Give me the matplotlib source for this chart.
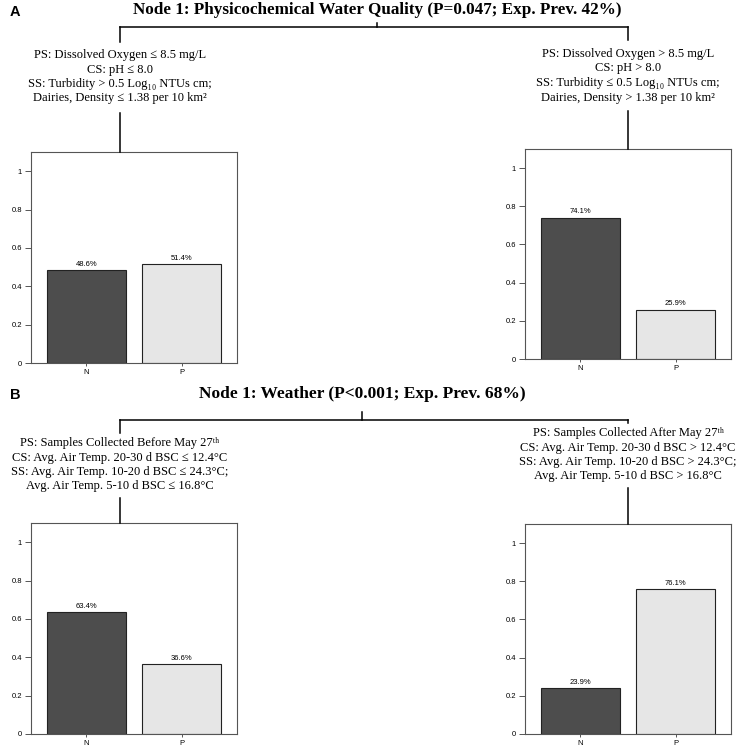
import matplotlib
matplotlib.use("Agg")
import matplotlib.pyplot as plt
from matplotlib.lines import Line2D

categories = ["N", "P"]
bar_colors = ["#4d4d4d", "#e6e6e6"]

prop_a_left = [0.486, 0.514]
prop_a_right = [0.741, 0.259]
prop_b_left = [0.634, 0.366]
prop_b_right = [0.239, 0.761]

title_a = "Node 1: Physicochemical Water Quality (P=0.047; Exp. Prev. 42%)"
title_b = "Node 1: Weather (P<0.001; Exp. Prev. 68%)"

text_a_left = ["PS: Dissolved Oxygen ≤ 8.5 mg/L",
               "CS: pH ≤ 8.0",
               "SS: Turbidity > 0.5 Log₁₀ NTUs cm;",
               "Dairies, Density ≤ 1.38 per 10 km²"]
text_a_right = ["PS: Dissolved Oxygen > 8.5 mg/L",
                "CS: pH > 8.0",
                "SS: Turbidity ≤ 0.5 Log₁₀ NTUs cm;",
                "Dairies, Density > 1.38 per 10 km²"]
text_b_left = ["PS: Samples Collected Before May 27ᵗʰ",
               "CS: Avg. Air Temp. 20-30 d BSC ≤ 12.4°C",
               "SS: Avg. Air Temp. 10-20 d BSC ≤ 24.3°C;",
               "Avg. Air Temp. 5-10 d BSC ≤ 16.8°C"]
text_b_right = ["PS: Samples Collected After May 27ᵗʰ",
                "CS: Avg. Air Temp. 20-30 d BSC > 12.4°C",
                "SS: Avg. Air Temp. 10-20 d BSC > 24.3°C;",
                "Avg. Air Temp. 5-10 d BSC > 16.8°C"]

W, H = 743, 753
fig = plt.figure(figsize=(W / 100, H / 100), dpi=100)
serif = ["Liberation Serif", "DejaVu Serif"]
sans = ["Liberation Sans", "DejaVu Sans"]


def fx(x):
    return x / W


def fy(y):
    return 1 - y / H


def line(x0, y0, x1, y1):
    fig.add_artist(Line2D([fx(x0), fx(x1)], [fy(y0), fy(y1)], color="black", lw=1.1,
                          transform=fig.transFigure))


def block(lines, x, ys):
    for t, y in zip(lines, ys):
        fig.text(fx(x), fy(y), t, ha="center", va="center", fontsize=9, family=serif)


def bar_panel(left, top, bottom, vals):
    ax = fig.add_axes([fx(left), fy(bottom), 206 / W, (bottom - top) / H])
    bars = ax.bar([0, 1], vals, width=0.83, color=bar_colors, edgecolor="#222222", linewidth=0.8)
    for b, v in zip(bars, vals):
        ax.annotate(f"{v * 100:.1f}%", (b.get_x() + b.get_width() / 2, v), xytext=(0, 1.5),
                    textcoords="offset points", ha="center", va="bottom", fontsize=5.5, family=sans)
    ax.set_xlim(-0.58, 1.58)
    ax.set_ylim(0, 1.1)
    ax.set_xticks([0, 1])
    ax.set_xticklabels(categories, family=sans, fontsize=5.5)
    ax.set_yticks([0, 0.2, 0.4, 0.6, 0.8, 1.0])
    ax.set_yticklabels(["0", "0.2", "0.4", "0.6", "0.8", "1"], family=sans, fontsize=5.5)
    ax.tick_params(axis="y", length=4, width=0.7, color="#555555", pad=2.5)
    ax.tick_params(axis="x", length=2.5, width=0.7, color="#555555", pad=2)
    for s in ax.spines.values():
        s.set_color("#555555")
        s.set_linewidth(0.8)
    return ax


# panel A
fig.text(fx(10), fy(12), "A", ha="left", va="center", fontsize=10.5, fontweight="bold", family=sans)
fig.text(fx(377), fy(10.5), title_a, ha="center", va="center", fontsize=12.3, fontweight="bold", family=serif)
line(120, 27, 628, 27)
line(377, 27, 377, 23)
line(120, 27, 120, 42)
line(628, 27, 628, 40)
block(text_a_left, 120, [55, 69.5, 84, 98.5])
block(text_a_right, 628, [54, 68.5, 83, 97.5])
line(120, 113, 120, 152)
line(628, 111, 628, 149)
bar_panel(31, 152, 363, prop_a_left)
bar_panel(525, 149, 359, prop_a_right)

# panel B
fig.text(fx(10), fy(395), "B", ha="left", va="center", fontsize=10.5, fontweight="bold", family=sans)
fig.text(fx(362), fy(394), title_b, ha="center", va="center", fontsize=12.5, fontweight="bold", family=serif)
line(120, 420, 628, 420)
line(362, 420, 362, 412)
line(120, 420, 120, 433)
line(628, 420, 628, 423)
block(text_b_left, 120, [443, 457.5, 472, 486.5])
block(text_b_right, 628, [433, 447.5, 462, 476.5])
line(120, 498, 120, 523)
line(628, 488, 628, 524)
bar_panel(31, 523, 734, prop_b_left)
bar_panel(525, 524, 734, prop_b_right)

fig.savefig("out.png", dpi=100)
